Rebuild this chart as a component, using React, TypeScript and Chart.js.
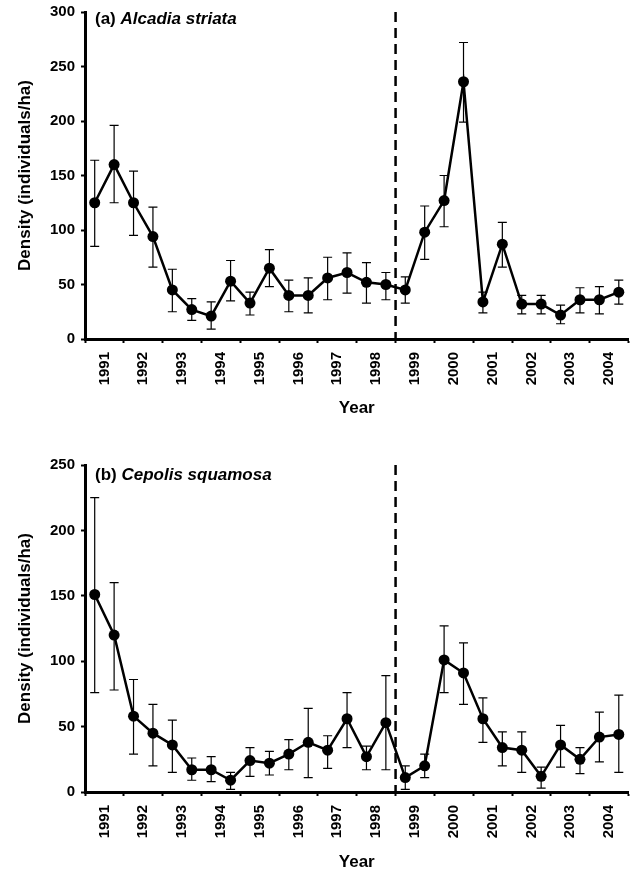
import React, { useEffect, useRef } from 'react';
import { Chart, registerables } from 'chart.js';

Chart.register(...registerables);

// ---- data ----
const years = ['1991', '1992', '1993', '1994', '1995', '1996', '1997', '1998', '1999', '2000', '2001', '2002', '2003', '2004'];
const samples = years.flatMap((y) => [`${y} (1)`, `${y} (2)`]);
const breakYear = '1999';

const alcadiaMean = [125, 160, 125, 94, 45, 27, 21, 53, 33, 65, 40, 40, 56, 61, 52, 50, 45, 98, 127, 236, 34, 87, 32, 32, 22, 36, 36, 43];
const alcadiaUpper = [164, 196, 154, 121, 64, 37, 34, 72, 43, 82, 54, 56, 75, 79, 70, 61, 57, 122, 150, 272, 43, 107, 40, 40, 31, 47, 48, 54];
const alcadiaLower = [85, 125, 95, 66, 25, 17, 9, 35, 22, 48, 25, 24, 36, 42, 33, 36, 33, 73, 103, 199, 24, 66, 23, 23, 14, 24, 23, 32];

const cepolisMean = [151, 120, 58, 45, 36, 17, 17, 9, 24, 22, 29, 38, 32, 56, 27, 53, 11, 20, 101, 91, 56, 34, 32, 12, 36, 25, 42, 44];
const cepolisUpper = [225, 160, 86, 67, 55, 26, 27, 15, 34, 31, 40, 64, 43, 76, 35, 89, 20, 29, 127, 114, 72, 46, 46, 19, 51, 34, 61, 74];
const cepolisLower = [76, 78, 29, 20, 15, 9, 8, 2, 12, 13, 17, 11, 18, 34, 17, 17, 2, 11, 76, 67, 38, 20, 15, 3, 19, 14, 23, 15];

const FONT = "'Liberation Sans', Arial, Helvetica, sans-serif";

const errorBarPlugin = {
  id: 'errorBars',
  beforeDatasetsDraw(chart: any, _args: any, opts: any) {
    const meta = chart.getDatasetMeta(0);
    const y = chart.scales.y;
    const ctx = chart.ctx;
    ctx.save();
    ctx.strokeStyle = '#000';
    ctx.lineWidth = 1.2;
    const cap = 4.5;
    meta.data.forEach((pt: any, i: number) => {
      const x = pt.x;
      const yHi = y.getPixelForValue(opts.upper[i]);
      const yLo = y.getPixelForValue(opts.lower[i]);
      ctx.beginPath();
      ctx.moveTo(x, yHi);
      ctx.lineTo(x, yLo);
      ctx.moveTo(x - cap, yHi);
      ctx.lineTo(x + cap, yHi);
      ctx.moveTo(x - cap, yLo);
      ctx.lineTo(x + cap, yLo);
      ctx.stroke();
    });
    ctx.restore();
  },
};

const breakLinePlugin = {
  id: 'breakLine',
  beforeDatasetsDraw(chart: any, _args: any, opts: any) {
    const { ctx, chartArea } = chart;
    const x = chart.scales.xYear.getPixelForValue(years.indexOf(opts.year));
    ctx.save();
    ctx.strokeStyle = '#000';
    ctx.lineWidth = 2.5;
    ctx.setLineDash([10, 6]);
    ctx.beginPath();
    ctx.moveTo(x, chartArea.top);
    ctx.lineTo(x, chartArea.bottom);
    ctx.stroke();
    ctx.restore();
  },
};

const panelLabelPlugin = {
  id: 'panelLabel',
  afterDraw(chart: any, _args: any, opts: any) {
    const { ctx, chartArea } = chart;
    ctx.save();
    ctx.fillStyle = '#000';
    ctx.textBaseline = 'alphabetic';
    const x = chartArea.left + opts.dx;
    const y = chartArea.top + opts.dy;
    ctx.font = `bold 17px ${FONT}`;
    ctx.fillText(opts.tag + ' ', x, y);
    const w = ctx.measureText(opts.tag + ' ').width;
    ctx.font = `italic bold 17px ${FONT}`;
    ctx.fillText(opts.species, x + w, y);
    ctx.restore();
  },
};

type PanelProps = {
  height: number;
  padTop: number;
  xAxisHeight: number;
  titlePadBottom: number;
  yMax: number;
  mean: number[];
  upper: number[];
  lower: number[];
  tag: string;
  species: string;
  labelDy: number;
};

function Panel(p: PanelProps) {
  const ref = useRef<HTMLCanvasElement | null>(null);
  useEffect(() => {
    if (!ref.current) return;
    const chart = new Chart(ref.current, {
      type: 'line',
      data: {
        labels: samples,
        datasets: [
          {
            data: p.mean,
            xAxisID: 'x',
            yAxisID: 'y',
            borderColor: '#000',
            borderWidth: 2.5,
            backgroundColor: '#000',
            pointRadius: 5.5,
            pointBackgroundColor: '#000',
            pointBorderColor: '#000',
            pointBorderWidth: 0,
            tension: 0,
            fill: false,
          },
        ],
      },
      options: {
        responsive: false,
        animation: false,
        devicePixelRatio: 1,
        layout: { padding: { left: 0, right: 2, top: p.padTop, bottom: 0 } },
        plugins: {
          legend: { display: false },
          tooltip: { enabled: false },
          errorBars: { upper: p.upper, lower: p.lower },
          breakLine: { year: breakYear },
          panelLabel: { tag: p.tag, species: p.species, dx: 10, dy: p.labelDy },
        } as any,
        scales: {
          x: { type: 'category', offset: true, display: false },
          xYear: {
            type: 'linear',
            axis: 'x',
            position: 'bottom',
            min: 0,
            max: years.length,
            afterBuildTicks: (s: any) => {
              s.ticks = Array.from({ length: years.length * 2 + 1 }, (_, k) => ({ value: k / 2 }));
            },
            afterFit: (s: any) => {
              s.height = p.xAxisHeight;
              s.paddingLeft = 0;
              s.paddingRight = 0;
            },
            ticks: {
              autoSkip: false,
              minRotation: 90,
              maxRotation: 90,
              padding: 9,
              color: '#000',
              font: { family: FONT, size: 15, weight: 'bold' },
              callback: (v: any) => {
                const n = Number(v);
                const i = Math.floor(n);
                return n - i === 0.5 ? years[i] : '';
              },
            },
            grid: {
              display: true,
              drawOnChartArea: false,
              drawTicks: true,
              tickLength: 4,
              tickWidth: 2,
              tickColor: (c: any) => (c.tick && Number.isInteger(c.tick.value) ? '#000' : 'rgba(0,0,0,0)'),
            },
            border: { display: true, color: '#000', width: 3 },
            title: {
              display: true,
              text: 'Year',
              color: '#000',
              font: { family: FONT, size: 17, weight: 'bold', lineHeight: 1 },
              padding: { top: 0, bottom: p.titlePadBottom },
            },
          } as any,
          y: {
            type: 'linear',
            min: 0,
            max: p.yMax,
            afterFit: (s: any) => {
              s.width = 85;
              s.paddingTop = 0;
              s.paddingBottom = 0;
            },
            ticks: {
              stepSize: 50,
              padding: 6,
              color: '#000',
              font: { family: FONT, size: 15, weight: 'bold' },
            },
            grid: { display: true, drawOnChartArea: false, tickLength: 4, tickWidth: 2, tickColor: '#000' },
            border: { display: true, color: '#000', width: 3 },
            title: {
              display: true,
              text: 'Density (individuals/ha)',
              color: '#000',
              font: { family: FONT, size: 17, weight: 'bold' },
              padding: { top: 15, bottom: 0 },
            },
          },
        },
      },
      plugins: [errorBarPlugin, breakLinePlugin, panelLabelPlugin],
    } as any);
    return () => chart.destroy();
  }, []);
  return <canvas ref={ref} width={634} height={p.height} style={{ display: 'block', width: 634, height: p.height }} />;
}

export default function App() {
  return (
    <div style={{ position: 'absolute', left: 0, top: 0, width: 634, height: 871, background: '#fff' }}>
      <Panel
        height={430}
        padTop={12}
        xAxisHeight={91}
        titlePadBottom={13}
        yMax={300}
        mean={alcadiaMean}
        upper={alcadiaUpper}
        lower={alcadiaLower}
        tag="(a)"
        species="Alcadia striata"
        labelDy={12}
      />
      <Panel
        height={441}
        padTop={35}
        xAxisHeight={79}
        titlePadBottom={0}
        yMax={250}
        mean={cepolisMean}
        upper={cepolisUpper}
        lower={cepolisLower}
        tag="(b)"
        species="Cepolis squamosa"
        labelDy={15}
      />
    </div>
  );
}
